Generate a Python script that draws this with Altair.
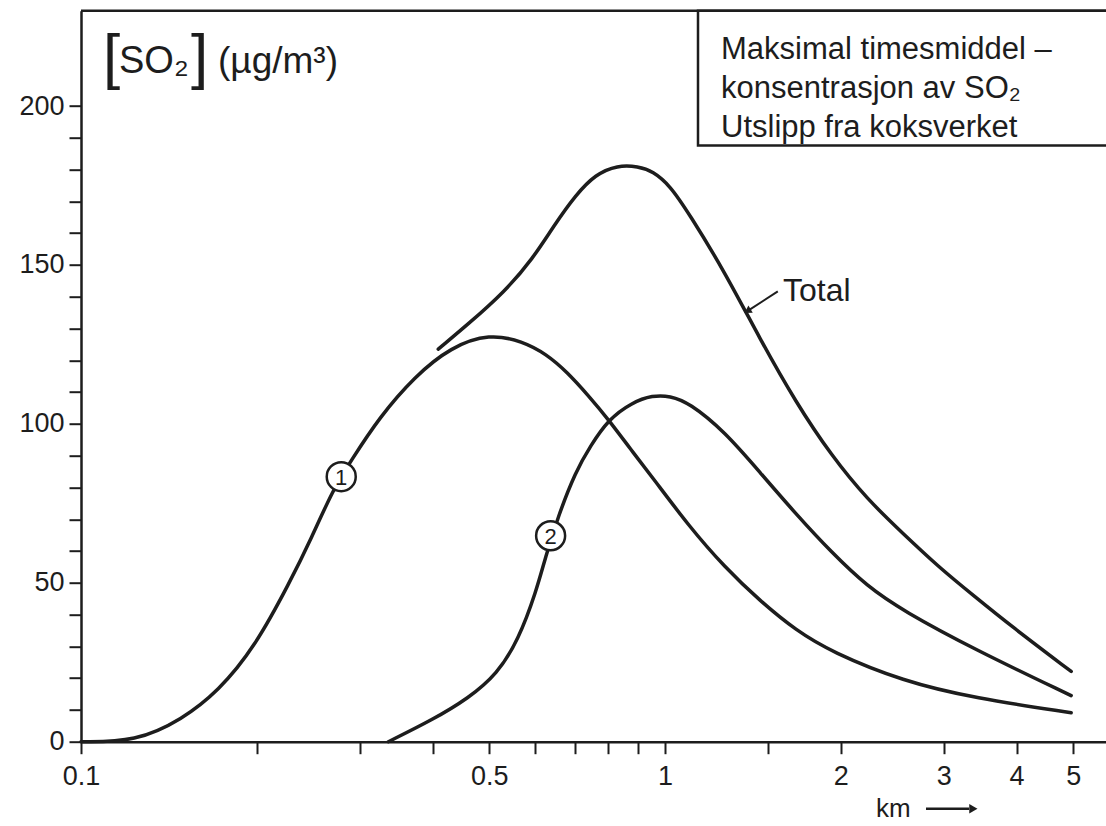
import altair as alt
import pandas as pd

# ---------------- data ----------------
curve1_km = [0.1, 0.124, 0.149, 0.172, 0.198, 0.228, 0.248, 0.270, 0.290, 0.324, 0.373,
             0.430, 0.501, 0.570, 0.626, 0.680, 0.740, 0.80, 0.875, 0.953, 1.099, 1.265,
             1.456, 1.676, 1.929, 2.556, 3.39, 4.96]
curve1_so2 = [0, 0, 7, 16, 29.5, 50.3, 64, 79.3, 88.4, 102, 115,
              124.2, 128.4, 126.0, 122, 116.3, 108.8, 101.4, 91.8, 83, 67.8, 54.9,
              44.2, 35, 28.2, 19, 13.7, 9.1]

curve2_km = [0.336, 0.400, 0.461, 0.516, 0.561, 0.602, 0.624, 0.656, 0.703, 0.745, 0.80,
             0.877, 0.953, 1.02, 1.099, 1.265, 1.456, 1.676, 1.929, 2.221, 2.556, 3.39, 4.96]
curve2_so2 = [0, 6.9, 13.7, 21.3, 32, 47.3, 58, 70.9, 85, 93, 101.4,
              106.7, 109, 108.8, 106.7, 97.6, 84.6, 71.6, 59.5, 48.8, 41.2, 29, 14.5]

total_km = [0.409, 0.461, 0.531, 0.594, 0.646, 0.703, 0.760, 0.829, 0.90, 0.953, 1.02,
            1.099, 1.265, 1.456, 1.676, 1.929, 2.221, 2.556, 2.944, 3.39, 3.90, 4.96]
total_so2 = [123.5, 131.5, 141.5, 152, 162.5, 172, 178.5, 181.4, 181, 179.5, 175,
             166.2, 147.9, 126.5, 106.7, 89.9, 76.2, 65.5, 54.9, 45.7, 36.6, 22.1]

marker_km = [0.279, 0.637]
marker_so2 = [83.4, 64.8]
marker_text = ["1", "2"]

x_tick_values = [0.1, 0.2, 0.3, 0.4, 0.5, 0.6, 0.7, 0.8, 0.9, 1, 1.5, 2, 3, 4, 5]
x_tick_labels = [0.1, 0.5, 1, 2, 3, 4, 5]
y_tick_values = list(range(0, 201, 10))

box_lines = ["Maksimal timesmiddel –", "konsentrasjon av SO₂", "Utslipp fra koksverket"]
total_label = "Total"
arrow_km = [1.56, 1.39]
arrow_so2 = [141.7, 135.7]

# ---------------- chart ----------------
INK = "#1d1d1d"
FONT = "Liberation Sans"
W, H = 1025, 731

frames = []
for name, xs, ys in [("1", curve1_km, curve1_so2), ("2", curve2_km, curve2_so2),
                     ("Total", total_km, total_so2)]:
    frames.append(pd.DataFrame({"km": xs, "so2": ys, "curve": name}))
df = pd.concat(frames, ignore_index=True)

xscale = alt.Scale(type="log", domain=[0.1, 5.69], nice=False)
yscale = alt.Scale(domain=[0, 230], nice=False)

lbl_list = "[" + ",".join(str(v) for v in x_tick_labels) + "]"
xaxis = alt.Axis(values=x_tick_values, title=None, grid=False,
                 labelExpr=f"indexof({lbl_list}, datum.value) >= 0 ? toString(datum.value) : ''",
                 labelFlush=False, labelOverlap=False, labelFont=FONT, labelFontSize=27,
                 labelColor=INK, labelPadding=10, tickSize=12, tickWidth=2, tickColor=INK,
                 domainColor=INK, domainWidth=2.5)
yaxis = alt.Axis(values=y_tick_values, title=None, grid=False,
                 labelExpr="datum.value % 50 == 0 ? toString(datum.value) : ''",
                 labelOverlap=False, labelFont=FONT, labelFontSize=27, labelColor=INK,
                 labelPadding=5, tickSize=12, tickWidth=2, tickColor=INK,
                 domainColor=INK, domainWidth=2.5)


def X(field):
    return alt.X(field, type="quantitative", scale=xscale, axis=xaxis)


def Y(field):
    return alt.Y(field, type="quantitative", scale=yscale, axis=yaxis)


lines = alt.Chart(df).mark_line(interpolate="basis", strokeWidth=3.5, color=INK,
                                strokeCap="round").encode(
    x=X("km"), y=Y("so2"), detail="curve:N")

mdf = pd.DataFrame({"km": marker_km, "so2": marker_so2, "t": marker_text})
markers = alt.Chart(mdf).mark_point(shape="circle", size=841, filled=True, fill="white",
                                    stroke=INK, strokeWidth=2.5, opacity=1).encode(
    x=X("km"), y=Y("so2"))
marker_lbl = alt.Chart(mdf).mark_text(font=FONT, fontSize=22, color=INK, baseline="middle",
                                      dy=1).encode(
    x=X("km"), y=Y("so2"), text="t:N")

one = alt.Data(values=[{"a": 0}])

top_rule = alt.Chart(one).mark_rule(color=INK, strokeWidth=2.5).encode(
    x=alt.value(0), x2=alt.value(W + 5), y=alt.value(0))

box = alt.Chart(one).mark_rect(fill="white", stroke=INK, strokeWidth=2.5).encode(
    x=alt.value(617), x2=alt.value(W + 10), y=alt.value(0), y2=alt.value(134.7))

box_text = alt.Chart(one).mark_text(font=FONT, fontSize=31, color=INK, align="left",
                                    baseline="alphabetic", lineBreak="\n",
                                    lineHeight=39).encode(
    x=alt.value(640), y=alt.value(48.5), text=alt.value("\n".join(box_lines)))

title_br_l = alt.Chart(one).mark_text(font=FONT, fontSize=62, color=INK, align="left",
                                      baseline="alphabetic").encode(
    x=alt.value(22), y=alt.value(66), text=alt.value("["))
title_so2 = alt.Chart(one).mark_text(font=FONT, fontSize=38, color=INK, align="left",
                                     baseline="alphabetic").encode(
    x=alt.value(38), y=alt.value(62), text=alt.value("SO₂"))
title_br_r = alt.Chart(one).mark_text(font=FONT, fontSize=62, color=INK, align="left",
                                      baseline="alphabetic").encode(
    x=alt.value(110), y=alt.value(66), text=alt.value("]"))
title_unit = alt.Chart(one).mark_text(font=FONT, fontSize=37, color=INK, align="left",
                                      baseline="alphabetic").encode(
    x=alt.value(137), y=alt.value(62), text=alt.value("(µg/m³)"))

total_txt = alt.Chart(one).mark_text(font=FONT, fontSize=32, color=INK, align="left",
                                     baseline="alphabetic").encode(
    x=alt.value(702), y=alt.value(290), text=alt.value(total_label))

adf = pd.DataFrame({"km": [arrow_km[0]], "km2": [arrow_km[1]],
                    "so2": [arrow_so2[0]], "so22": [arrow_so2[1]]})
arrow_line = alt.Chart(adf).mark_rule(color=INK, strokeWidth=2).encode(
    x=X("km"), x2="km2:Q", y=Y("so2"), y2="so22:Q")
arrow_head = alt.Chart(adf).mark_point(shape="triangle", filled=True, size=70, angle=239,
                                       color=INK, opacity=1).encode(
    x=X("km2"), y=Y("so22"))

km_txt = alt.Chart(one).mark_text(font=FONT, fontSize=26, color=INK, align="left",
                                  baseline="alphabetic").encode(
    x=alt.value(795), y=alt.value(806), text=alt.value("km"))
km_arrow = alt.Chart(one).mark_rule(color=INK, strokeWidth=2.5).encode(
    x=alt.value(845), x2=alt.value(888), y=alt.value(798))
km_head = alt.Chart(one).mark_point(shape="triangle", filled=True, size=90, angle=90,
                                    color=INK, opacity=1).encode(
    x=alt.value(891), y=alt.value(798))

chart = alt.layer(
    lines, markers, marker_lbl, top_rule, box, box_text,
    title_br_l, title_so2, title_br_r, title_unit,
    total_txt, arrow_line, arrow_head, km_txt, km_arrow, km_head,
).properties(
    width=W, height=H,
    autosize=alt.AutoSizeParams(type="none"),
    padding={"left": 81, "top": 10.7, "right": 0, "bottom": 84.3},
    background="white",
).configure_view(stroke=None).configure_axis(labelOverlap=False)

chart.save("out.html", embed_options={"renderer": "svg", "actions": False})
